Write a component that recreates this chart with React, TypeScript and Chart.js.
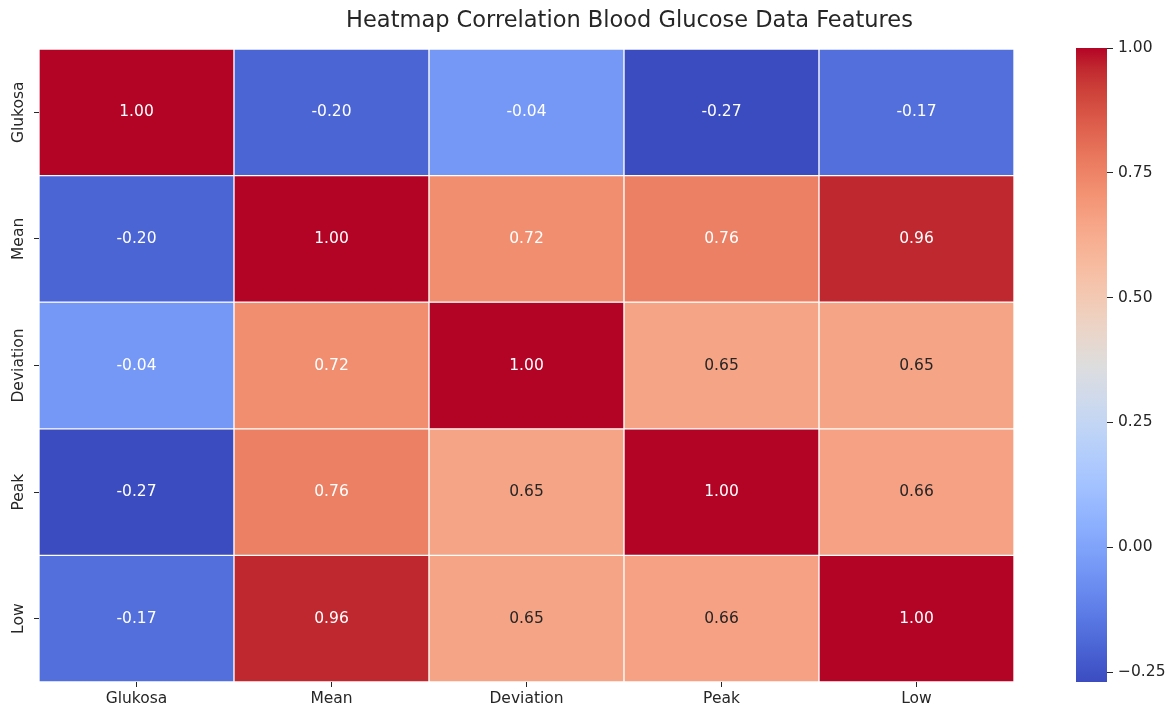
import React, { useEffect, useRef } from 'react';
import { Chart, registerables } from 'chart.js';

Chart.register(...registerables);

const TITLE = 'Heatmap Correlation Blood Glucose Data Features';
const features = ['Glukosa', 'Mean', 'Deviation', 'Peak', 'Low'];
const corrGlukosa = [1.0, -0.2, -0.04, -0.27, -0.17];
const corrMean = [-0.2, 1.0, 0.72, 0.76, 0.96];
const corrDeviation = [-0.04, 0.72, 1.0, 0.65, 0.65];
const corrPeak = [-0.27, 0.76, 0.65, 1.0, 0.66];
const corrLow = [-0.17, 0.96, 0.65, 0.66, 1.0];
const colorbarTicks = [-0.25, 0, 0.25, 0.5, 0.75, 1.0];

const matrix = [corrGlukosa, corrMean, corrDeviation, corrPeak, corrLow];
const VMIN = Math.min(...matrix.flat());
const VMAX = Math.max(...matrix.flat());

// coolwarm colormap stops (Moreland diverging map)
const COOLWARM: number[][] = [
  [59, 76, 192], [68, 90, 204], [77, 104, 215], [87, 117, 225], [98, 130, 234],
  [108, 142, 241], [119, 154, 247], [130, 165, 251], [141, 176, 254], [152, 185, 255],
  [163, 194, 255], [174, 201, 253], [184, 208, 249], [194, 213, 244], [204, 217, 238],
  [213, 219, 230], [221, 221, 221], [229, 216, 209], [236, 211, 197], [241, 204, 184],
  [245, 196, 172], [247, 187, 160], [247, 177, 148], [247, 166, 137], [244, 154, 123],
  [241, 141, 111], [236, 127, 99], [229, 112, 88], [222, 96, 77], [213, 80, 66],
  [203, 62, 56], [192, 40, 47], [180, 4, 38],
];

const FONT = '"DejaVu Sans", sans-serif';
const TEXT_DARK = '#262626';

function cmapRGB(v: number): number[] {
  let t = (v - VMIN) / (VMAX - VMIN);
  t = Math.max(0, Math.min(1, t));
  const pos = t * (COOLWARM.length - 1);
  const i = Math.min(Math.floor(pos), COOLWARM.length - 2);
  const f = pos - i;
  const a = COOLWARM[i];
  const b = COOLWARM[i + 1];
  return [0, 1, 2].map((k) => Math.round(a[k] + (b[k] - a[k]) * f));
}

function cmap(v: number): string {
  const [r, g, b] = cmapRGB(v);
  return `rgb(${r},${g},${b})`;
}

function textColor(v: number): string {
  const lin = cmapRGB(v).map((c) => {
    const s = c / 255;
    return s <= 0.03928 ? s / 12.92 : Math.pow((s + 0.055) / 1.055, 2.4);
  });
  const lum = 0.2126 * lin[0] + 0.7152 * lin[1] + 0.0722 * lin[2];
  return lum > 0.408 ? TEXT_DARK : '#ffffff';
}

const annotatePlugin = {
  id: 'annotateHeatmap',
  afterDatasetsDraw(chart: any) {
    const ctx = chart.ctx;
    ctx.save();
    ctx.font = `15.5px ${FONT}`;
    ctx.textAlign = 'center';
    ctx.textBaseline = 'middle';
    chart.data.datasets.forEach((_ds: any, i: number) => {
      const meta = chart.getDatasetMeta(i);
      meta.data.forEach((el: any, j: number) => {
        const v = matrix[i][j];
        const p = el.getCenterPoint();
        ctx.fillStyle = textColor(v);
        ctx.fillText(v.toFixed(2), p.x, p.y);
      });
    });
    const ys = chart.scales.y;
    ctx.fillStyle = TEXT_DARK;
    features.forEach((f, i) => {
      const y = ys.getPixelForValue(i + 0.5);
      ctx.save();
      ctx.translate(19, y);
      ctx.rotate(-Math.PI / 2);
      ctx.fillText(f, 0, 0);
      ctx.restore();
    });
    // title
    ctx.font = `22.5px ${FONT}`;
    ctx.textAlign = 'center';
    ctx.textBaseline = 'alphabetic';
    ctx.fillStyle = TEXT_DARK;
    ctx.fillText(TITLE, 629.5, 27);
    ctx.restore();
  },
};

export default function App() {
  const mainRef = useRef<HTMLCanvasElement | null>(null);
  const cbRef = useRef<HTMLCanvasElement | null>(null);

  useEffect(() => {
    const main = new Chart(mainRef.current as HTMLCanvasElement, {
      type: 'bar',
      data: {
        labels: features,
        datasets: matrix.map((row, i) => ({
          label: features[i],
          data: features.map(() => 1),
          backgroundColor: row.map((v) => cmap(v)),
          borderColor: '#ffffff',
          borderWidth: 1,
          borderSkipped: false,
          barPercentage: 1,
          categoryPercentage: 1,
          stack: 'heat',
        })),
      },
      options: {
        responsive: false,
        animation: false,
        devicePixelRatio: 1,
        layout: { padding: { top: 49, right: 156, bottom: 0, left: 0 } },
        plugins: {
          legend: { display: false },
          tooltip: { enabled: false },
          title: { display: false },
        },
        scales: {
          x: {
            type: 'category',
            stacked: true,
            offset: true,
            border: { display: false },
            grid: { drawOnChartArea: false, drawTicks: true, tickLength: 5, color: TEXT_DARK, offset: false },
            ticks: { color: TEXT_DARK, font: { family: FONT, size: 15.5 }, padding: 3, maxRotation: 0, autoSkip: false },
            afterFit: (s: any) => { s.height = 31; },
          },
          y: {
            type: 'linear',
            stacked: true,
            min: 0,
            max: features.length,
            reverse: true,
            border: { display: false },
            grid: { drawOnChartArea: false, drawTicks: true, tickLength: 5, color: TEXT_DARK },
            ticks: { display: false },
            afterBuildTicks: (s: any) => { s.ticks = features.map((_f, i) => ({ value: i + 0.5 })); },
            afterFit: (s: any) => { s.width = 39; },
          },
        },
      } as any,
      plugins: [annotatePlugin],
    });

    const cb = new Chart(cbRef.current as HTMLCanvasElement, {
      type: 'bar',
      data: {
        labels: ['cb'],
        datasets: [{
          data: [[VMIN, VMAX]] as any,
          borderWidth: 0,
          barPercentage: 1,
          categoryPercentage: 1,
          backgroundColor: (c: any) => {
            const chart = c.chart;
            const ys = chart.scales && chart.scales.y;
            if (!chart.chartArea || !ys) return cmap(0.5);
            const y0 = ys.getPixelForValue(VMIN);
            const y1 = ys.getPixelForValue(VMAX);
            const g = chart.ctx.createLinearGradient(0, y0, 0, y1);
            const n = 64;
            for (let k = 0; k <= n; k++) {
              g.addColorStop(k / n, cmap(VMIN + (VMAX - VMIN) * (k / n)));
            }
            return g;
          },
        }],
      },
      options: {
        responsive: false,
        animation: false,
        devicePixelRatio: 1,
        layout: { padding: { top: 48, right: 0, bottom: 31, left: 23 } },
        plugins: { legend: { display: false }, tooltip: { enabled: false }, title: { display: false } },
        scales: {
          x: { display: false, offset: true },
          y: {
            type: 'linear',
            position: 'right',
            min: VMIN,
            max: VMAX,
            border: { display: false },
            grid: { drawOnChartArea: false, drawTicks: true, tickLength: 6, color: TEXT_DARK },
            ticks: {
              color: TEXT_DARK,
              font: { family: FONT, size: 15.5 },
              padding: 5,
              callback: (v: any) => (Number(v) < 0 ? '\u2212' : '') + Math.abs(Number(v)).toFixed(2),
            },
            afterBuildTicks: (s: any) => { s.ticks = colorbarTicks.map((v) => ({ value: v })); },
            afterFit: (s: any) => { s.width = 63; },
          },
        },
      } as any,
    });

    return () => {
      main.destroy();
      cb.destroy();
    };
  }, []);

  return (
    <div style={{ position: 'absolute', left: 0, top: 0, width: 1170, height: 713, background: '#ffffff' }}>
      <canvas ref={mainRef} width={1170} height={713} style={{ position: 'absolute', left: 0, top: 0 }} />
      <canvas ref={cbRef} width={117} height={713} style={{ position: 'absolute', left: 1053, top: 0 }} />
    </div>
  );
}
